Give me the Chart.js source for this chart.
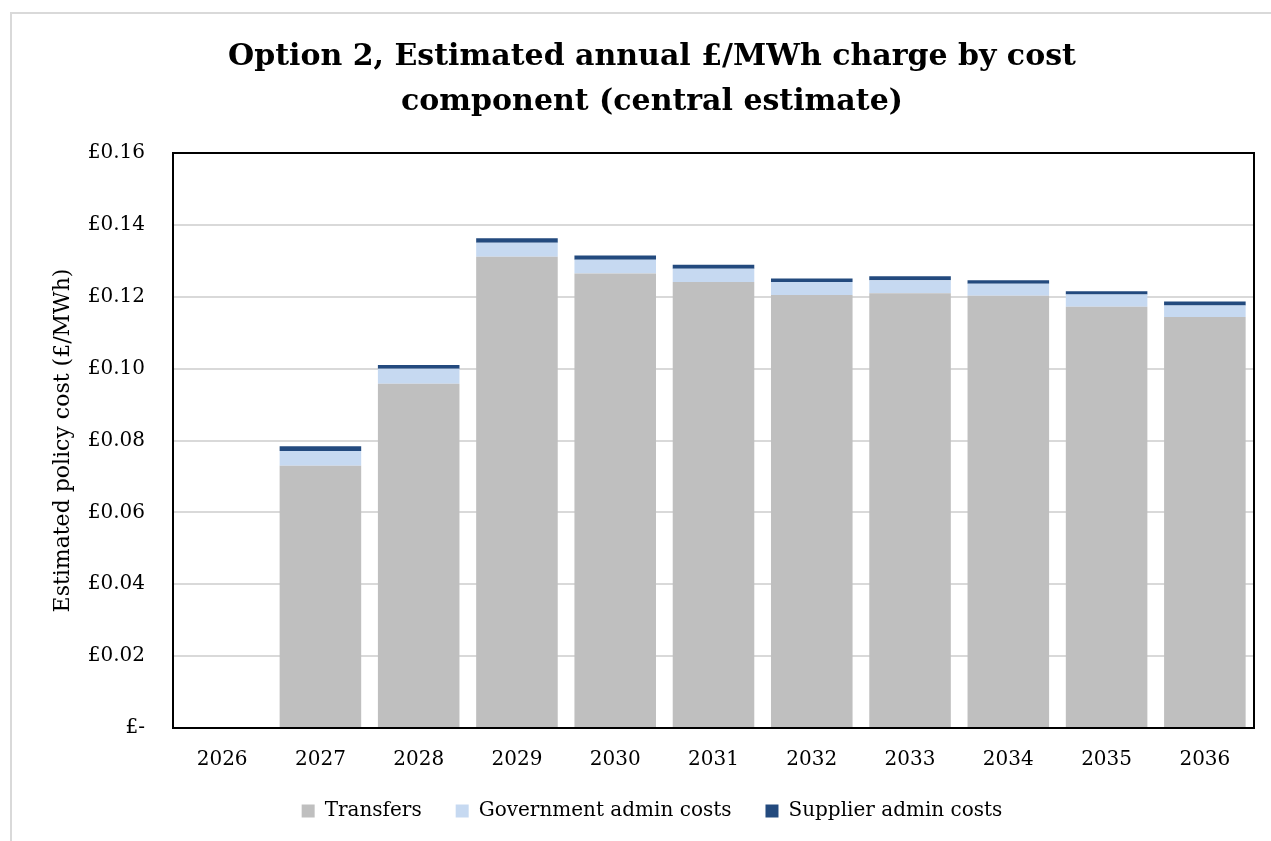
<!DOCTYPE html>
<html>
<head>
<meta charset="utf-8">
<script src="https://cdn.jsdelivr.net/npm/chart.js@4.4.1/dist/chart.umd.min.js"></script>
<style>
  html, body { margin: 0; padding: 0; background: #fff; }
  #wrap { position: relative; width: 1271px; height: 841px; overflow: hidden; }
  #frame { position: absolute; left: 10px; top: 12px; width: 1300px; height: 900px; border: 2px solid #d9d9d9; box-sizing: border-box; }
  canvas { position: absolute; left: 0; top: 0; }
</style>
</head>
<body>
<div id="wrap">
  <div id="frame"></div>
  <canvas id="myChart" width="1271" height="841"></canvas>
</div>
<script>
const years = ['2026', '2027', '2028', '2029', '2030', '2031', '2032', '2033', '2034', '2035', '2036'];
const transfers = [0, 0.0730, 0.0958, 0.1311, 0.1265, 0.1241, 0.1205, 0.1210, 0.1203, 0.1172, 0.1144];
const govAdmin = [0, 0.0041, 0.0042, 0.0039, 0.0038, 0.0037, 0.0036, 0.0036, 0.0033, 0.0034, 0.0032];
const supplierAdmin = [0, 0.0013, 0.0010, 0.0013, 0.0012, 0.0011, 0.0010, 0.0011, 0.0010, 0.0009, 0.0011];

const serif = "'DejaVu Serif', 'Liberation Serif', serif";

// black frame round the plot area
const plotFrame = {
	id: 'plotFrame',
	afterDatasetsDraw(chart) {
		const a = chart.chartArea;
		const c = chart.ctx;
		c.save();
		c.strokeStyle = '#000';
		c.lineWidth = 2;
		c.strokeRect(a.left, a.top, a.right - a.left, a.bottom - a.top);
		c.restore();
	}
};

var ctx = document.getElementById('myChart').getContext('2d');

var myChart = new Chart(ctx, {
	type: 'bar',
	data: {
		labels: years,
		datasets: [
			{ label: 'Transfers', data: transfers, backgroundColor: '#bfbfbf' },
			{ label: 'Government admin costs', data: govAdmin, backgroundColor: '#c6d9f1' },
			{ label: 'Supplier admin costs', data: supplierAdmin, backgroundColor: '#234a7e' }
		]
	},
	plugins: [plotFrame],
	options: {
		responsive: false,
		animation: false,
		layout: { padding: { left: 50, right: 17, top: 0, bottom: 10 } },
		datasets: { bar: { categoryPercentage: 1, barPercentage: 0.83 } },
		plugins: {
			title: {
				display: true,
				text: ['Option 2, Estimated annual £/MWh charge by cost', 'component (central estimate)'],
				color: '#000',
				font: { family: serif, size: 30, weight: 'bold', lineHeight: 1.5 },
				padding: { top: 35, bottom: 28 }
			},
			legend: {
				position: 'bottom',
				labels: {
					color: '#000',
					font: { family: serif, size: 20 },
					boxWidth: 13,
					boxHeight: 13,
					padding: 34
				}
			},
			tooltip: { enabled: false }
		},
		scales: {
			x: {
				stacked: true,
				grid: { display: false, drawTicks: false },
				border: { display: false },
				ticks: { color: '#000', font: { family: serif, size: 20 }, padding: 20 },
				afterFit(scale) { scale.height = 39; }
			},
			y: {
				stacked: true,
				min: 0,
				max: 0.16,
				grid: { color: '#d9d9d9', lineWidth: 2, drawTicks: false },
				border: { display: false },
				ticks: {
					stepSize: 0.02,
					color: '#000',
					font: { family: serif, size: 20 },
					padding: 28,
					callback: (v) => v === 0 ? '£-' : '£' + v.toFixed(2)
				},
				title: {
					display: true,
					text: 'Estimated policy cost (£/MWh)',
					color: '#000',
					font: { family: serif, size: 22 },
					padding: { top: 0, bottom: 0 }
				},
				afterFit(scale) { scale.width = 123; }
			}
		}
	}
});
</script>
</body>
</html>
